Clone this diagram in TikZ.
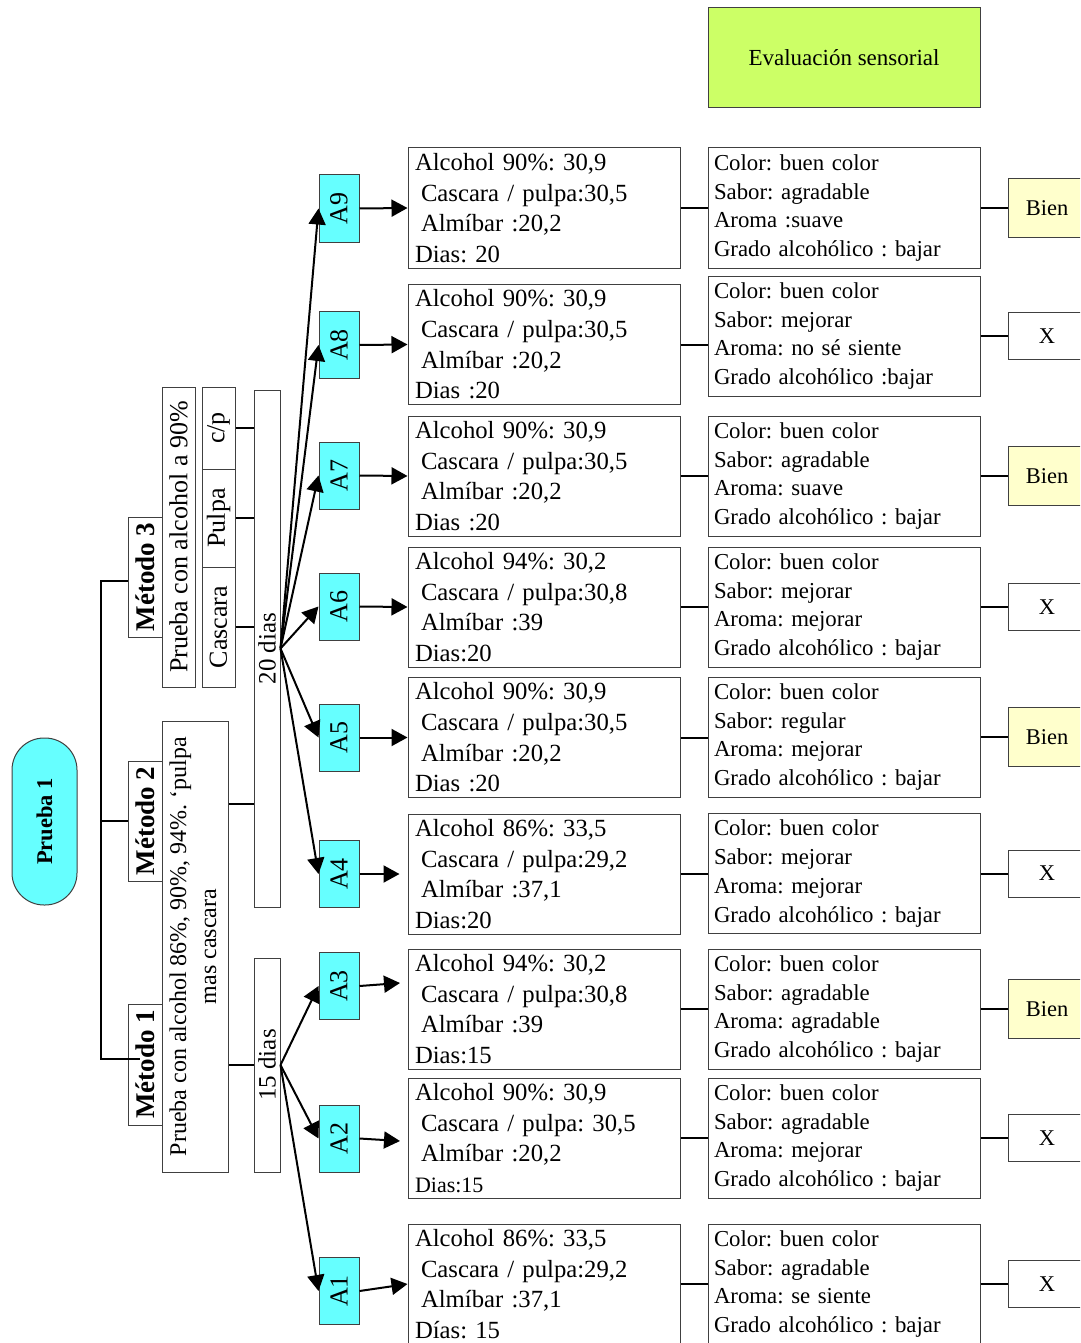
\documentclass[tikz,border=0pt]{standalone}
\usepackage{fontspec}
\setmainfont{Liberation Serif}
\usepackage{graphicx}
\usetikzlibrary{arrows.meta,calc}
\definecolor{aqua}{HTML}{66FFFF}
\definecolor{lime}{HTML}{CCFF66}
\definecolor{cream}{HTML}{FFFFCC}
\definecolor{edge}{HTML}{404040}
\newcommand{\turntext}[1]{\rotatebox{90}{#1}}
\newcommand{\ind}{\hspace*{6pt}}
\frenchspacing

\begin{document}
\begin{tikzpicture}[x=1pt,y=-1pt,
  box/.style={draw=edge,line width=1pt,inner sep=0pt},
  wire/.style={line width=2pt},
  arr/.style={wire,-{Triangle[length=16pt,width=17pt]}},
  datbox/.style={box,minimum height=120pt,text width=258pt,inner xsep=7pt,align=left,
    font=\fontsize{24.7}{30.7}\selectfont},
  evalbox/.style={box,minimum height=120pt,text width=260pt,inner xsep=6pt,align=left,
    font=\fontsize{22.8}{28.7}\selectfont},
  sample/.style={box,fill=aqua,minimum width=40pt,minimum height=67pt,
    font=\fontsize{26}{26}\selectfont},
  verdict/.style={box,minimum width=78pt,font=\fontsize{22.5}{22.5}\selectfont},
  good/.style={verdict,fill=cream,minimum height=59pt},
  bad/.style={verdict,fill=white,minimum height=47pt},
  side/.style={box,font=\fontsize{26}{26}\selectfont},
  method/.style={box,minimum width=34pt,font=\bfseries\fontsize{27}{27}\selectfont},
]
\useasboundingbox (0,0) rectangle (1080,1343);
\clip (0,0) rectangle (1080,1343);

% ---- test and methods ----
\node[box,fill=aqua,rounded corners=32pt,minimum width=65pt,minimum height=167pt,
  font=\bfseries\fontsize{22.5}{22.5}\selectfont] (P1) at (44.5,821.5) {\turntext{Prueba 1}};

\node[method,minimum height=120pt] (M3) at (145,577) {\turntext{Método 3}};
\node[method,minimum height=120pt] (M2) at (145,821) {\turntext{Método 2}};
\node[method,minimum height=121pt] (M1) at (145,1064.5) {\turntext{Método 1}};

\node[side,minimum width=33pt,minimum height=300pt] (G3) at (178.5,537)
  {\turntext{Prueba con alcohol a 90\%}};
\node[side,minimum width=33pt,minimum height=120pt] (Cas) at (218.5,627) {\turntext{Cascara}};
\node[side,minimum width=33pt,minimum height=98pt] (Pul) at (218.5,518) {\turntext{Pulpa}};
\node[side,minimum width=33pt,minimum height=82pt] (CP) at (218.5,428) {\turntext{c/p}};

\node[side,minimum width=66pt,minimum height=451pt,font=\fontsize{24}{30}\selectfont] (G12) at (195,946.5)
  {\turntext{\begin{tabular}{@{}c@{}}Prueba con alcohol 86\%, 90\%, 94\%. `pulpa\\mas cascara\end{tabular}}};

\node[side,minimum width=26pt,minimum height=517pt,font=\fontsize{25}{25}\selectfont] (D20) at (267,648.5)
  {\turntext{20 dias}};
\node[side,minimum width=26pt,minimum height=214pt,font=\fontsize{25}{25}\selectfont] (D15) at (267,1065)
  {\turntext{15 dias}};

% ---- samples ----
\node[sample] (A9) at (339,208.5) {\turntext{A9}};
\node[sample] (A8) at (339,345) {\turntext{A8}};
\node[sample] (A7) at (339,475.5) {\turntext{A7}};
\node[sample] (A6) at (339,606.5) {\turntext{A6}};
\node[sample] (A5) at (339,737.5) {\turntext{A5}};
\node[sample] (A4) at (339,874) {\turntext{A4}};
\node[sample] (A3) at (339,986) {\turntext{A3}};
\node[sample] (A2) at (339,1138.5) {\turntext{A2}};
\node[sample] (A1) at (339,1291) {\turntext{A1}};

% ---- formulations ----
\node[datbox] (T9) at (544,208) {Alcohol 90\%: 30,9\\\ind Cascara / pulpa:30,5\\\ind Almíbar :20,2\\Dias: 20};
\node[datbox] (T8) at (544,344.5) {Alcohol 90\%: 30,9\\\ind Cascara / pulpa:30,5\\\ind Almíbar :20,2\\Dias :20};
\node[datbox] (T7) at (544,476) {Alcohol 90\%: 30,9\\\ind Cascara / pulpa:30,5\\\ind Almíbar :20,2\\Dias :20};
\node[datbox] (T6) at (544,607) {Alcohol 94\%: 30,2\\\ind Cascara / pulpa:30,8\\\ind Almíbar :39\\Dias:20};
\node[datbox] (T5) at (544,737.5) {Alcohol 90\%: 30,9\\\ind Cascara / pulpa:30,5\\\ind Almíbar :20,2\\Dias :20};
\node[datbox] (T4) at (544,874) {Alcohol 86\%: 33,5\\\ind Cascara / pulpa:29,2\\\ind Almíbar :37,1\\Dias:20};
\node[datbox] (T3) at (544,1009) {Alcohol 94\%: 30,2\\\ind Cascara / pulpa:30,8\\\ind Almíbar :39\\Dias:15};
\node[datbox] (T2) at (544,1138) {Alcohol 90\%: 30,9\\\ind Cascara / pulpa: 30,5\\\ind Almíbar :20,2\\{\fontsize{22}{22}\selectfont Dias:15}};
\node[datbox] (T1) at (544,1284) {Alcohol 86\%: 33,5\\\ind Cascara / pulpa:29,2\\\ind Almíbar :37,1\\Días: 15};

% ---- sensory evaluation ----
\node[box,fill=lime,minimum width=272pt,minimum height=100pt,font=\fontsize{23}{23}\selectfont] (ES) at (844,58)
  {Evaluación sensorial};

\node[evalbox] (E9) at (844,208) {Color: buen color\\Sabor: agradable\\Aroma :suave\\Grado alcohólico : bajar};
\node[evalbox] (E8) at (844,336) {Color: buen color\\Sabor: mejorar\\Aroma: no sé siente\\Grado alcohólico :bajar};
\node[evalbox] (E7) at (844,476) {Color: buen color\\Sabor: agradable\\Aroma: suave\\Grado alcohólico : bajar};
\node[evalbox] (E6) at (844,607) {Color: buen color\\Sabor: mejorar\\Aroma: mejorar\\Grado alcohólico : bajar};
\node[evalbox] (E5) at (844,737) {Color: buen color\\Sabor: regular\\Aroma: mejorar\\Grado alcohólico : bajar};
\node[evalbox] (E4) at (844,873.5) {Color: buen color\\Sabor: mejorar\\Aroma: mejorar\\Grado alcohólico : bajar};
\node[evalbox] (E3) at (844,1009) {Color: buen color\\Sabor: agradable\\Aroma: agradable\\Grado alcohólico : bajar};
\node[evalbox] (E2) at (844,1138) {Color: buen color\\Sabor: agradable\\Aroma: mejorar\\Grado alcohólico : bajar};
\node[evalbox] (E1) at (844,1284) {Color: buen color\\Sabor: agradable\\Aroma: se siente\\Grado alcohólico : bajar};

% ---- verdicts ----
\node[good] (R9) at (1047,208) {Bien};
\node[bad]  (R8) at (1047,336) {X};
\node[good] (R7) at (1047,476) {Bien};
\node[bad]  (R6) at (1047,607) {X};
\node[good] (R5) at (1047,737) {Bien};
\node[bad]  (R4) at (1047,873.5) {X};
\node[good] (R3) at (1047,1009) {Bien};
\node[bad]  (R2) at (1047,1138) {X};
\node[bad]  (R1) at (1047,1284) {X};

% ---- connectors ----
\coordinate (brtop) at (101,581);
\coordinate (brbot) at (101,1059);
\draw[wire] (M3.west |- brtop) -- (brtop) -- (brbot) -- ($(M1.west |- brbot)+(12,0)$);
\draw[wire] (M2.west) -- (M2.west -| brtop);

\draw[wire] (CP.east) -- (CP.east -| D20.west);
\draw[wire] (Pul.east) -- (Pul.east -| D20.west);
\draw[wire] (Cas.east) -- (Cas.east -| D20.west);
\coordinate (j20) at (254,804);
\draw[wire] (G12.east |- j20) -- (j20);
\draw[wire] (D15.west) -- (D15.west -| G12.east);

\foreach \k in {9,8,7,6,5,4} \draw[arr] (D20.east) -- (A\k.west);
\foreach \k in {3,2,1} \draw[arr] (D15.east) -- (A\k.west);

\foreach \k in {9,8,7,6,5,1} \draw[arr] (A\k.east) -- (T\k.west);
\draw[arr] (A4.east) -- ($(T4.west)+(-8,0)$);
\coordinate (in3) at (400,983);
\draw[arr] (A3.east) -- (in3);
\coordinate (in2) at (400,1141);
\draw[arr] (A2.east) -- (in2);

\foreach \k in {1,...,9} {
  \draw[wire] (T\k.east) -- (T\k.east -| E\k.west);
  \draw[wire] (E\k.east) -- (R\k.west);
}
\end{tikzpicture}
\end{document}
